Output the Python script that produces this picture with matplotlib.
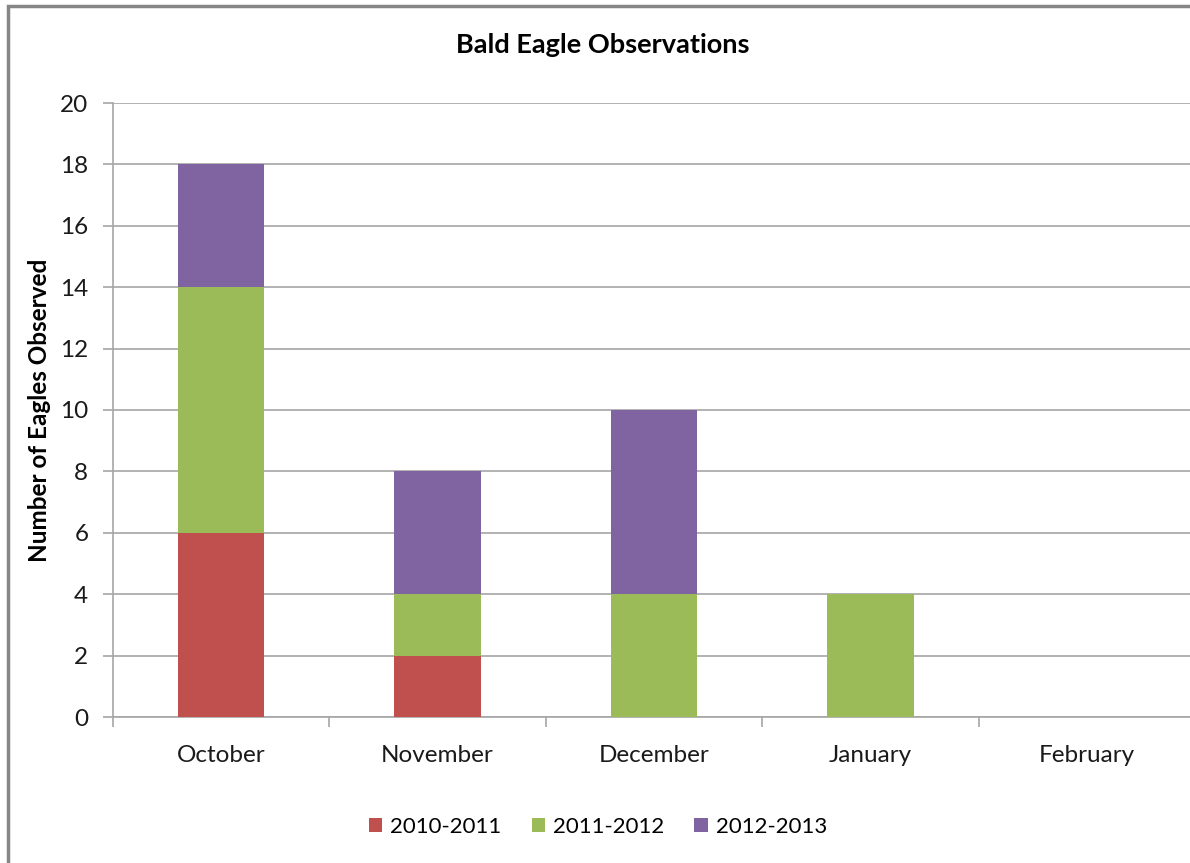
import matplotlib
matplotlib.use("Agg")
import matplotlib.pyplot as plt
import numpy as np
from matplotlib.patches import Rectangle

months = ["October", "November", "December", "January", "February"]
series_names = ["2010-2011", "2011-2012", "2012-2013"]
s2010 = [6, 2, 0, 0, 0]
s2011 = [8, 2, 4, 4, 0]
s2012 = [4, 4, 6, 0, 0]
colors = ["#C0504D", "#9BBB59", "#8064A2"]
yticks = [0, 2, 4, 6, 8, 10, 12, 14, 16, 18, 20]

plt.rcParams['font.family'] = ['Lato', 'DejaVu Sans']

W, H = 1190, 863
fig = plt.figure(figsize=(W / 100, H / 100), dpi=100)
ax = fig.add_axes([113 / W, 146 / H, (1195 - 113) / W, (717 - 103) / H])

x = np.arange(len(months))
bottom = np.zeros(len(months))
for name, vals, c in zip(series_names, [s2010, s2011, s2012], colors):
    ax.bar(x, vals, width=0.40, bottom=bottom, color=c, label=name, zorder=3)
    bottom += np.array(vals)

ax.set_xlim(-0.5, len(months) - 0.5)
ax.set_ylim(0, 20)
ax.set_yticks(yticks)
ax.set_yticklabels([str(v) for v in yticks], fontsize=17.5, color="#1a1a1a")
ax.yaxis.grid(True, color="#a6a6a6", linewidth=1.2, zorder=0)
ax.set_axisbelow(True)

ax.set_xticks(x)
ax.set_xticklabels(months, fontsize=17.5, color="#1a1a1a")
ax.tick_params(axis='x', which='major', length=0, pad=20)
ax.set_xticks(np.arange(-0.5, len(months) + 0.5, 1), minor=True)
ax.tick_params(axis='x', which='minor', length=7, color="#a6a6a6", width=1.2)
ax.tick_params(axis='y', length=7, color="#a6a6a6", width=1.2, pad=10.8)

for s in ["top", "right"]:
    ax.spines[s].set_visible(False)
for s in ["left", "bottom"]:
    ax.spines[s].set_color("#a6a6a6")
    ax.spines[s].set_linewidth(1.2)

ax.set_ylabel("Number of Eagles Observed", fontsize=17.5, fontweight="bold", va="center")
ax.yaxis.set_label_coords((40 - 113) / (1195 - 113), 0.5)
fig.text(603 / W, 1 - 45 / H, "Bald Eagle Observations", fontsize=19.5, fontweight="bold",
         ha="center", va="center")

leg = fig.legend(loc="center", bbox_to_anchor=(598 / W, 1 - 827 / H), ncol=3, frameon=False,
                 fontsize=16, handlelength=0.6, handleheight=0.6, columnspacing=1.35,
                 handletextpad=0.36)

fig.patches.append(Rectangle((8 / W, -0.1), 1.2, 1 - 6 / H + 0.1, transform=fig.transFigure,
                             fill=False, edgecolor="#868686", linewidth=2.5, zorder=10))

fig.savefig("out.png", dpi=100)
